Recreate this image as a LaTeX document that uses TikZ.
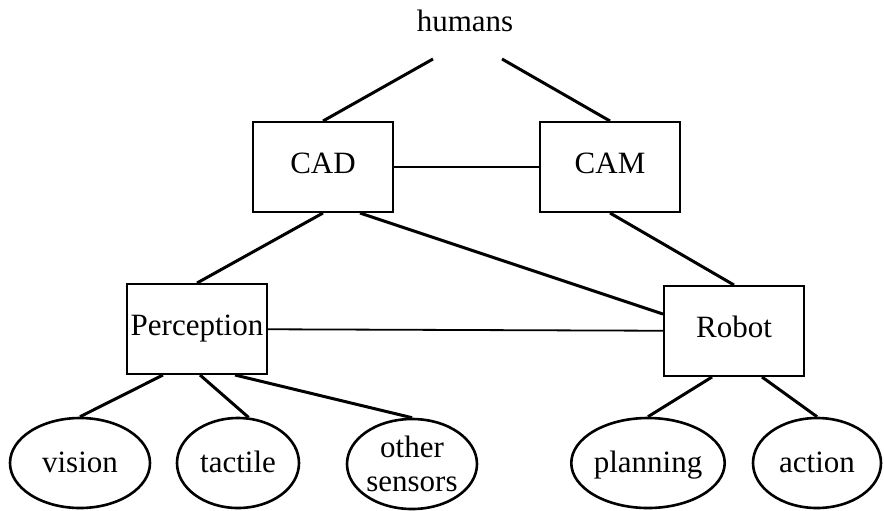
\documentclass[tikz,border=0pt]{standalone}
\usepackage{fontspec}
\setmainfont{Liberation Serif}
\usetikzlibrary{shapes.geometric,calc}

\begin{document}
\begin{tikzpicture}[x=0.5pt,y=-0.5pt,
  box/.style={rectangle,draw,line width=1pt,minimum width=70pt,minimum height=45pt,
              inner sep=0pt,text height=10pt,text depth=3.5pt,
              font=\fontsize{15.5}{18}\selectfont},
  oval/.style={ellipse,draw,line width=1.3pt,minimum height=45pt,inner sep=0pt,
               align=center,font=\fontsize{15.5}{18}\selectfont},
  word/.style={text height=12pt,text depth=3pt},
  lbl/.style={font=\fontsize{15.5}{18}\selectfont},
  link/.style={line width=1.5pt},
  flat/.style={line width=0.9pt}]

\useasboundingbox (0,0) rectangle (884,510);

\node[lbl] (hum) at (465,21) {humans};
\coordinate (hl) at (433,59);
\coordinate (hr) at (502,59);

\node[box] (cad) at (323,167) {CAD};
\node[box] (cam) at (610,167) {CAM};

\node[box] (per) at (197,329) {Perception};
\node[box] (rob) at (734,331) {Robot};

\node[oval,word,minimum width=70pt] (vis) at (80,463)  {vision};
\node[oval,word,minimum width=61pt] (tac) at (238,463) {tactile};
\node[oval,minimum width=65pt] (oth) at (412,464) {other\\[-1pt]sensors};
\node[oval,word,minimum width=70pt] (pla) at (648,463) {planning};
\node[oval,word,minimum width=64pt] (act) at (817,463) {action};

\draw[link] (hl) -- (cad.north);
\draw[link] (hr) -- (cam.north);
\draw[flat] (cad) -- (cam);
\draw[link] (cad.south) -- (per.north);
\draw[link] ($(cad.south)+(37,0)$) -- ($(rob.west)+(0,-17)$);
\draw[link] (cam.south) -- (rob.north);
\draw[flat] (per) -- (rob);

\draw[link] ($(per.south)+(-34,0)$) -- (vis.north);
\draw[link] ($(per.south)+(3,0)$) -- (tac.77);
\draw[link] ($(per.south)+(38,0)$) -- (oth.north);
\draw[link] ($(rob.south)+(-22,0)$) -- (pla.north);
\draw[link] ($(rob.south)+(28,0)$) -- (act.north);
\end{tikzpicture}
\end{document}
